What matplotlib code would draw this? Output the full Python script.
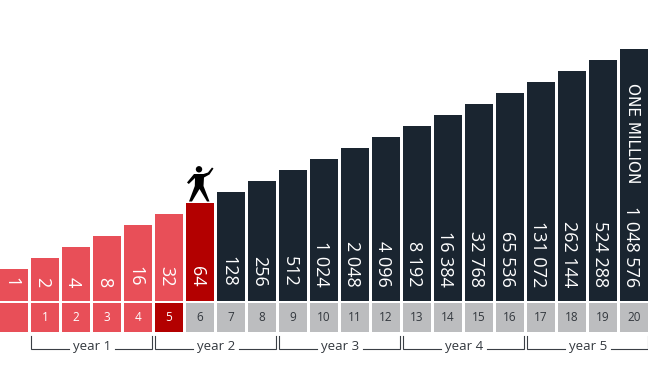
import numpy as np
import matplotlib
matplotlib.use('Agg')
import matplotlib.pyplot as plt
from matplotlib.patches import Circle, Polygon

W, H = 648, 372

# one bar per doubling
bar_values = [1, 2, 4, 8, 16, 32, 64, 128, 256, 512, 1024, 2048, 4096, 8192, 16384,
              32768, 65536, 131072, 262144, 524288, 1048576]
bar_labels = ['1', '2', '4', '8', '16', '32', '64', '128', '256', '512', '1 024', '2 048',
              '4 096', '8 192', '16 384', '32 768', '65 536', '131 072', '262 144',
              '524 288', '1 048 576']
month_labels = ['', '1', '2', '3', '4', '5', '6', '7', '8', '9', '10', '11', '12', '13',
                '14', '15', '16', '17', '18', '19', '20']
year_labels = ['year 1', 'year 2', 'year 3', 'year 4', 'year 5']
top_note = 'ONE MILLION'

RED = '#e84f58'
DARK_RED = '#b30000'
NAVY = '#1a2530'
GREY = '#bcbdbf'
FONT = 'Open Sans'


# axes placed by pixel box, x in bar index units
def pixel_axes(fig, top, bottom):
    ax = fig.add_axes([0, 1 - bottom / H, 1, (bottom - top) / H])
    ax.set_xlim(-14 / 31, (W - 14) / 31)
    ax.axis('off')
    return ax


fig = plt.figure(figsize=(W / 100, H / 100), dpi=100, facecolor='white')
idx = np.arange(len(bar_values))

# bars, 11 px per doubling
ax = pixel_axes(fig, 0, 301)
ax.set_yscale('log', base=2)
ymin = 2 ** (-32 / 11)
ymax = 2 ** (269 / 11)
ax.set_ylim(ymin, ymax)
bar_colors = [RED] * 6 + [DARK_RED] + [NAVY] * 14
ax.bar(idx, np.array(bar_values) - ymin, width=28 / 31, bottom=ymin, color=bar_colors, linewidth=0)
for i, lab in zip(idx, bar_labels):
    ax.annotate(lab, (i, ymin), xytext=(-3, 14), textcoords='offset pixels', rotation=270,
                ha='center', va='bottom', color='white', fontsize=13, family=FONT)
ax.annotate(top_note, (idx[-1], ymin), xytext=(-1, 118), textcoords='offset pixels',
            rotation=270, ha='center', va='bottom', color='white', fontsize=11, family='DejaVu Sans')

# month row
ax2 = pixel_axes(fig, 303, 332)
ax2.set_ylim(0, 1)
cell_colors = [RED] * 5 + [DARK_RED] + [GREY] * 15
ax2.bar(idx, [1] * len(idx), width=28 / 31, color=cell_colors, linewidth=0)
for i, lab in zip(idx, month_labels):
    ax2.text(i, 0.5, lab, ha='center', va='center', fontsize=8.5,
             color='white' if i < 6 else '#33383e', family=FONT)

# year brackets
ax3 = pixel_axes(fig, 332, 372)
ax3.set_ylim(40, 0)
for n, lab in enumerate(year_labels):
    a = 4 * n + 1 - 0.45
    b = 4 * n + 4 + 0.45
    mid = (a + b) / 2
    for xs, ys in [([a, a, mid - 0.74], [4, 16.5, 16.5]), ([mid + 0.76, b, b], [16.5, 16.5, 4])]:
        ax3.plot(xs, ys, color='#3a3f45', lw=0.8, solid_joinstyle='miter')
    ax3.text(mid + 0.03, 14.5, lab, ha='center', va='center', fontsize=9.5, color='#33383e', family=FONT)

# little man standing on the 64 bar, drawn in his own pixel box
man = fig.add_axes([186 / W, 1 - 203 / H, 30 / W, 40 / H])
man.set_xlim(186, 216)
man.set_ylim(203, 163)
man.axis('off')
man.add_patch(Circle((199, 169.3), 3.2, color='black', lw=0))
body = [(194, 174), (203.5, 174), (208, 172.5), (212, 167.5), (213.5, 168.5), (209.5, 174.5),
        (204, 177.5), (203.5, 186), (209.5, 201.5), (207, 201.5), (199.5, 189), (192, 201.5),
        (189, 201.5), (194.8, 186), (195, 178), (188.8, 184), (187, 182.5)]
man.add_patch(Polygon(body, closed=True, color='black', lw=0))

fig.savefig('out.png', dpi=100, facecolor='white')
